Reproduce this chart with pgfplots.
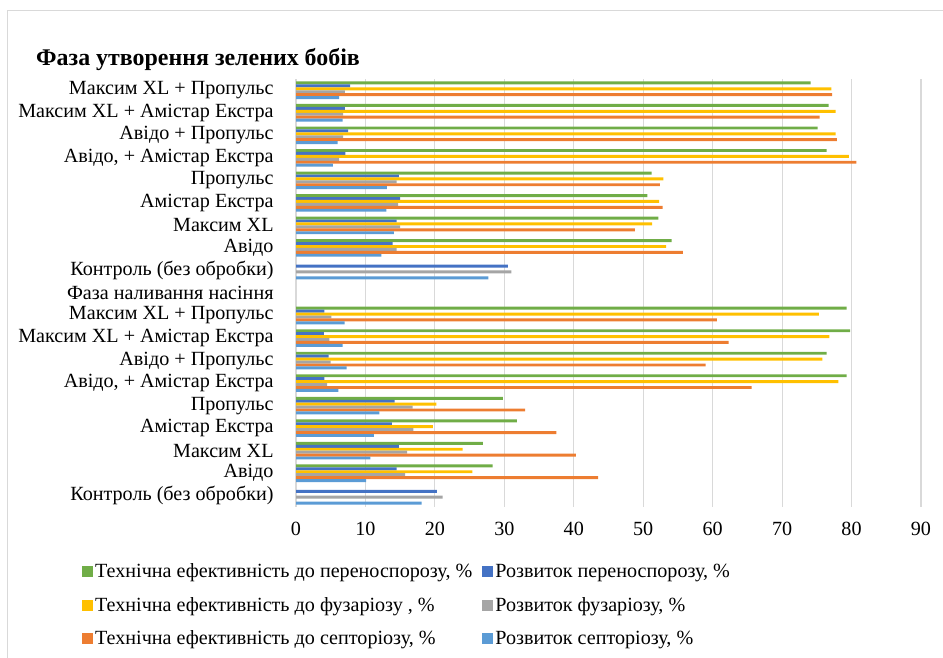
\documentclass[border=0pt]{standalone}
\usepackage{fontspec}
\setmainfont{Liberation Serif}
\usepackage{pgfplots}
\usepackage{pgfplotstable}
\pgfplotsset{compat=1.18}

\definecolor{cGreen}{HTML}{70AD47}
\definecolor{cDBlue}{HTML}{4472C4}
\definecolor{cYellow}{HTML}{FFC000}
\definecolor{cGray}{HTML}{A5A5A5}
\definecolor{cOrange}{HTML}{ED7D31}
\definecolor{cLBlue}{HTML}{5B9BD5}
\definecolor{gridc}{HTML}{D9D9D9}

% idx: 0 = top row of the chart
\pgfplotstableread{
idx g    db   y    gr   o    lb
0   74.1 7.8  77.1 7.05 77.2 6.2
1   76.7 7.05 77.7 6.8  75.4 6.7
2   75.1 7.5  77.7 6.8  77.9 6.0
3   76.4 7.1  79.6 6.2  80.7 5.3
4   51.2 14.8 52.9 14.5 52.4 13.1
5   50.6 15.0 52.3 14.7 52.8 13.0
6   52.2 14.5 51.3 15.0 48.8 14.1
7   54.1 13.9 53.3 14.5 55.7 12.3
8   nan  30.5 nan  31.0 nan  27.7
10  79.3 4.1  75.3 5.1  60.6 7.0
11  79.8 4.0  76.8 4.8  62.3 6.7
12  76.4 4.7  75.8 5.0  59.0 7.3
13  79.3 4.1  78.1 4.5  65.6 6.1
14  29.8 14.2 20.2 16.8 33.0 12.0
15  31.8 13.8 19.7 16.9 37.5 11.2
16  26.9 14.8 24.0 16.0 40.3 10.7
17  28.3 14.5 25.4 15.7 43.5 10.1
18  nan  20.3 nan  21.1 nan  18.1
}\datatable

\newcommand{\lblfont}{\fontsize{20.2}{23}\selectfont}

\begin{document}
\begin{tikzpicture}
\useasboundingbox (0,0) rectangle (943bp,658bp);
\draw[gridc, line width=1bp] (7bp,0) -- (7bp,647bp) -- (943bp,647bp);
\node[anchor=west, inner sep=0pt, font=\bfseries\fontsize{24}{27}\selectfont] at (36bp,598bp) {Фаза утворення зелених бобів};
\begin{axis}[
  at={(296bp,151bp)}, anchor=south west,
  scale only axis, width=625bp, height=428bp,
  xbar=0pt, bar width=2.93bp,
  xmin=0, xmax=90, xtick={0,10,...,90},
  ymin=-0.5, ymax=18.5, y dir=reverse,
  ytick={0,...,18},
  yticklabels={Максим XL + Пропульс, Максим XL + Амістар Екстра, Авідо + Пропульс, {Авідо, + Амістар Екстра}, Пропульс, Амістар Екстра, Максим XL, Авідо, Контроль (без обробки), Фаза наливання насіння, Максим XL + Пропульс, Максим XL + Амістар Екстра, Авідо + Пропульс, {Авідо, + Амістар Екстра}, Пропульс, Амістар Екстра, Максим XL, Авідо, Контроль (без обробки)},
  xmajorgrids, grid style={gridc, line width=1.2bp},
  axis line style={draw=none}, tick style={draw=none},
  tick label style={font=\lblfont},
  /pgf/number format/assume math mode=true,
  xticklabel style={inner sep=0pt, yshift=-15bp},
  yticklabel style={inner sep=0pt, xshift=-18bp},
  legend columns=2, legend cell align=left,
  legend image code/.code={\fill[#1, draw=none] (0bp,-5.5bp) rectangle (11bp,5.5bp);},
  legend style={draw=none, fill=none, at={(-0.3424,-0.128)}, anchor=north west,
    inner sep=0pt, font=\lblfont, row sep=14bp,
    /tikz/every even column/.append style={column sep=8bp}},
]
\addplot[fill=cGreen, draw=none, bar shift=7.325bp] table[x=g, y=idx] {\datatable};
\addlegendentry{Технічна ефективність до переноспорозу, \%}
\addplot[fill=cDBlue, draw=none, bar shift=4.395bp] table[x=db, y=idx] {\datatable};
\addlegendentry{Розвиток переноспорозу, \%}
\addplot[fill=cYellow, draw=none, bar shift=1.465bp] table[x=y, y=idx] {\datatable};
\addlegendentry{Технічна ефективність до фузаріозу , \%}
\addplot[fill=cGray, draw=none, bar shift=-1.465bp] table[x=gr, y=idx] {\datatable};
\addlegendentry{Розвиток фузаріозу, \%}
\addplot[fill=cOrange, draw=none, bar shift=-4.395bp] table[x=o, y=idx] {\datatable};
\addlegendentry{Технічна ефективність до септоріозу, \%}
\addplot[fill=cLBlue, draw=none, bar shift=-7.325bp] table[x=lb, y=idx] {\datatable};
\addlegendentry{Розвиток септоріозу, \%}
\end{axis}
\end{tikzpicture}
\end{document}
